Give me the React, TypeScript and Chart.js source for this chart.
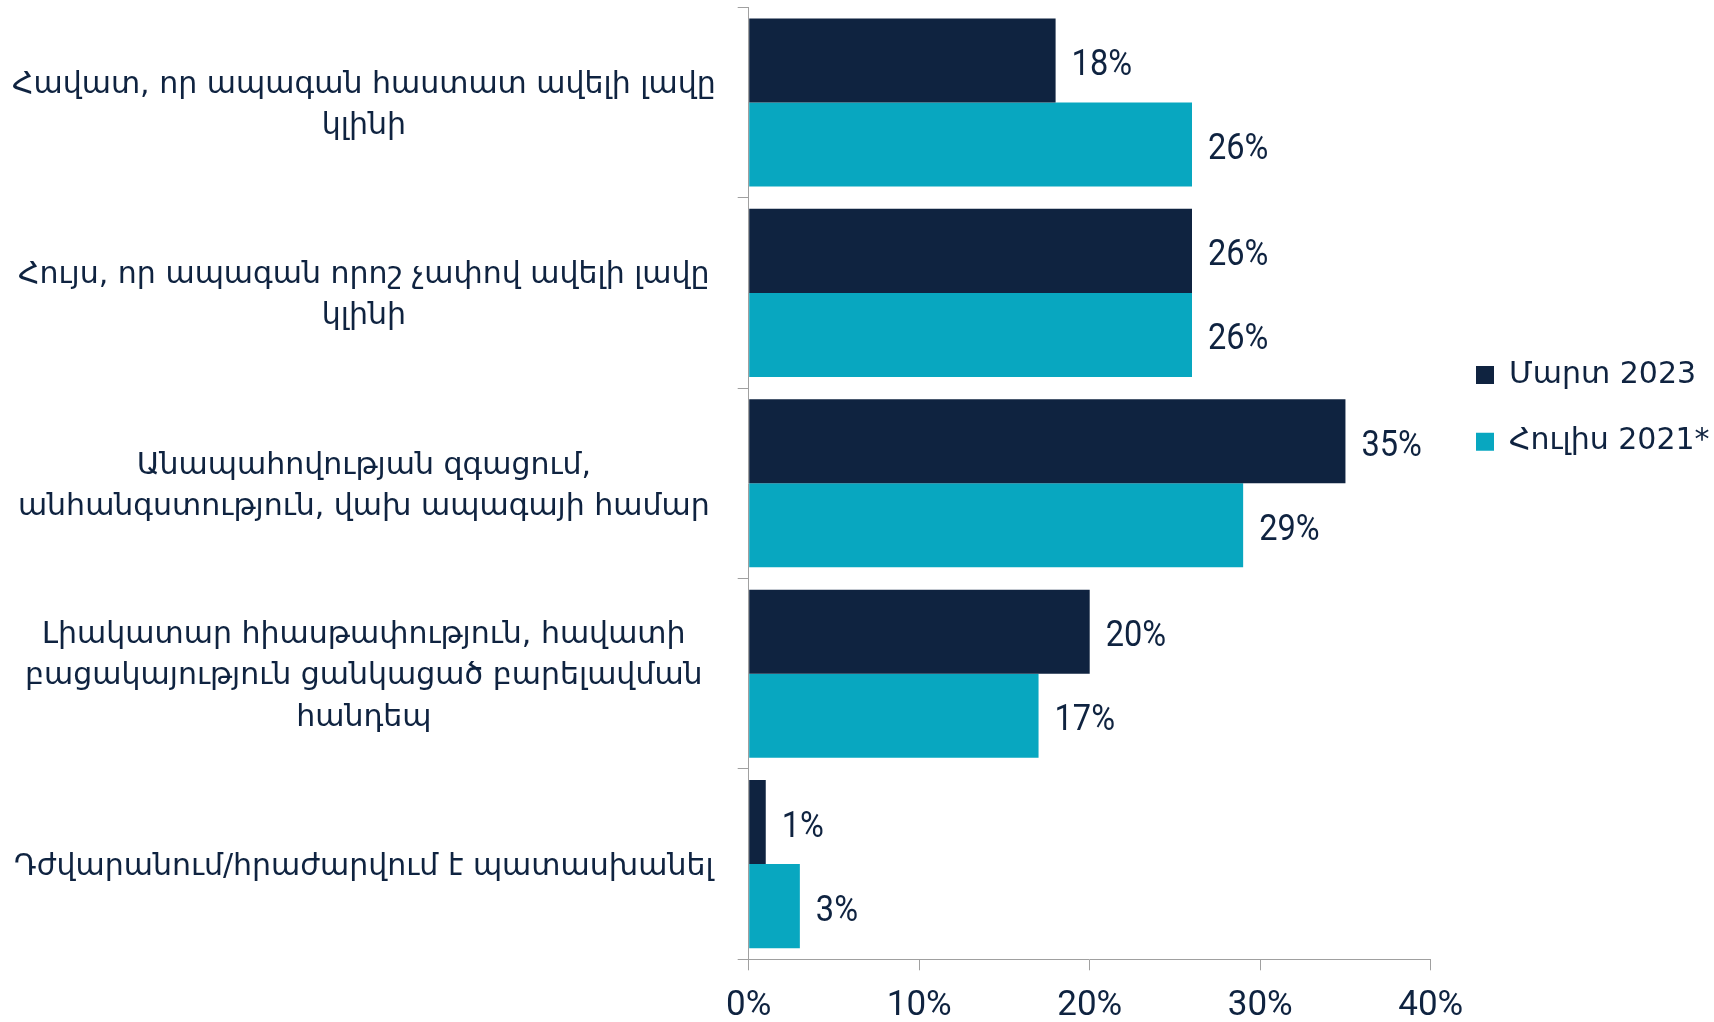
import React, { useEffect, useRef } from 'react';
import { Chart, registerables } from 'chart.js';

Chart.register(...registerables);

const categories: string[][] = [
  ['Հավատ, որ ապագան հաստատ ավելի լավը', 'կլինի'],
  ['Հույս, որ ապագան որոշ չափով ավելի լավը', 'կլինի'],
  ['Անապահովության զգացում,', 'անհանգստություն, վախ ապագայի համար'],
  ['Լիակատար հիասթափություն, հավատի', 'բացակայություն ցանկացած բարելավման', 'հանդեպ'],
  ['Դժվարանում/հրաժարվում է պատասխանել'],
];

const seriesNames = ['Մարտ 2023', 'Հուլիս 2021*'];
const march2023 = [18, 26, 35, 20, 1];
const july2021 = [26, 26, 29, 17, 3];
const xTicks = [0, 10, 20, 30, 40];

const NAVY = '#0F2340';
const TEAL = '#08A7C0';
const GRAY = '#A0A0A0';
const ARM_FONT = "'DejaVu Sans', 'Noto Sans', sans-serif";
const NUM_FONT = "Roboto, 'Liberation Sans', sans-serif";

const W = 1714;
const H = 1022;
const PLOT_LEFT = 748.7;
const PLOT_RIGHT = 1430.7;
const PLOT_TOP = 7.3;
const PLOT_BOTTOM = 959.3;
const LEGEND_PAD = 36.7;
const LEGEND_BOX_X = 1476;

const valueLabels = {
  id: 'valueLabels',
  afterDatasetsDraw(chart: any) {
    const ctx = chart.ctx;
    chart.data.datasets.forEach((ds: any, di: number) => {
      const meta = chart.getDatasetMeta(di);
      meta.data.forEach((bar: any, i: number) => {
        ctx.save();
        ctx.font = `37px ${NUM_FONT}`;
        ctx.fillStyle = NAVY;
        ctx.textAlign = 'left';
        ctx.textBaseline = 'alphabetic';
        ctx.translate(bar.x + 16, bar.y + 14.5);
        ctx.scale(0.88, 1);
        ctx.fillText(`${ds.data[i]}%`, 0, 0);
        ctx.restore();
      });
    });
  },
};

const legendFix = {
  id: 'legendFix',
  afterInit(chart: any) {
    const lg = chart.legend;
    if (!lg) return;
    const orig = lg.fit.bind(lg);
    lg.fit = () => {
      orig();
      lg.width = W - PLOT_RIGHT;
    };
  },
  afterLayout(chart: any) {
    const lg = chart.legend;
    if (!lg) return;
    const shift = LEGEND_BOX_X - (lg.left + LEGEND_PAD);
    lg.left += shift;
    lg.right += shift;
  },
};

export default function App() {
  const ref = useRef<HTMLCanvasElement | null>(null);

  useEffect(() => {
    document.body.style.margin = '0';
    if (!ref.current) return;
    const chart = new Chart(ref.current, {
      type: 'bar',
      data: {
        labels: categories,
        datasets: [
          {
            label: seriesNames[0],
            data: march2023,
            backgroundColor: NAVY,
            categoryPercentage: 0.883,
            barPercentage: 1,
          },
          {
            label: seriesNames[1],
            data: july2021,
            backgroundColor: TEAL,
            categoryPercentage: 0.883,
            barPercentage: 1,
          },
        ],
      },
      options: {
        indexAxis: 'y',
        responsive: false,
        animation: false,
        layout: { padding: { top: PLOT_TOP, left: 0, right: 0, bottom: 0 } },
        scales: {
          x: {
            type: 'linear',
            min: 0,
            max: 40,
            afterBuildTicks: (s: any) => {
              s.ticks = xTicks.map((v) => ({ value: v }));
            },
            ticks: {
              callback: (v: any) => `${v}%`,
              color: NAVY,
              font: { family: NUM_FONT, size: 35, lineHeight: 1 },
              padding: 18,
              maxRotation: 0,
            },
            grid: { drawOnChartArea: false, drawTicks: true, tickLength: 11, color: GRAY, lineWidth: 1 },
            border: { color: GRAY, width: 1 },
            afterFit: (s: any) => {
              s.height = H - PLOT_BOTTOM;
            },
          },
          y: {
            type: 'category',
            ticks: {
              color: NAVY,
              font: { family: ARM_FONT, size: 30, lineHeight: 1.37 },
              crossAlign: 'center',
              padding: 22,
              labelOffset: 3,
              autoSkip: false,
            },
            grid: { offset: true, drawOnChartArea: false, drawTicks: true, tickLength: 11, color: GRAY, lineWidth: 1 },
            border: { color: GRAY, width: 1 },
            afterFit: (s: any) => {
              s.width = PLOT_LEFT;
              s.paddingTop = 0;
              s.paddingBottom = 0;
            },
          },
        },
        plugins: {
          legend: {
            position: 'right',
            align: 'start',
            title: { display: true, text: '', padding: { top: 306, bottom: 0 }, font: { size: 10, lineHeight: 1 } },
            labels: {
              boxWidth: 18,
              boxHeight: 18,
              padding: LEGEND_PAD,
              color: NAVY,
              font: { family: ARM_FONT, size: 30 },
            },
          },
          tooltip: { enabled: false },
        },
      },
      plugins: [valueLabels, legendFix],
    } as any);
    return () => chart.destroy();
  }, []);

  return (
    <div style={{ width: W, height: H }}>
      <canvas ref={ref} width={W} height={H} style={{ display: 'block' }} />
    </div>
  );
}
